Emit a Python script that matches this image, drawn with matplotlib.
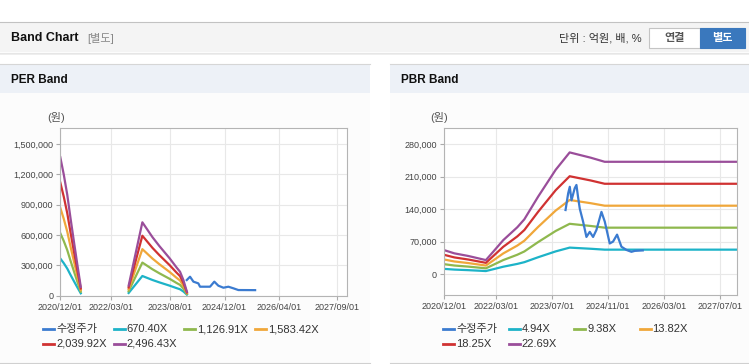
import matplotlib
matplotlib.use('agg')
import matplotlib.pyplot as plt
from matplotlib.patches import Rectangle
from matplotlib.lines import Line2D
from matplotlib.ticker import FuncFormatter
import numpy as np

W, H = 749, 364

# ---- PER band data (EPS per date, NaN = no band) ----
per_dates = ['2020-12-01', '2021-01-01', '2021-02-01', '2021-03-01', '2021-04-01',
             '2021-05-01', '2021-06-01', '2022-01-01',
             '2022-08-01', '2022-12-01', '2023-03-01', '2023-05-01', '2023-08-01',
             '2023-10-01', '2023-11-01', '2023-12-01', '2024-01-01']
per_eps = [549, 480, 400, 310, 215, 125, 35, np.nan,
           40, 291, 232, 197, 148, 112, 95, 62, 16]
per_multiples = [670.40, 1126.91, 1583.42, 2039.92, 2496.43]
per_labels = ['670.40X', '1,126.91X', '1,583.42X', '2,039.92X', '2,496.43X']
per_price_dates = ['2023-12-31', '2024-01-29', '2024-02-28', '2024-04-12', '2024-04-27',
                   '2024-07-25', '2024-09-01', '2024-10-07', '2024-11-21', '2025-01-04',
                   '2025-02-18', '2025-04-03', '2025-08-30']
per_price = [155000, 188000, 139000, 122000, 89000, 89000, 139000, 99000, 79000,
             89000, 73000, 56000, 55000]
per_xticks = ['2020-12-01', '2022-03-01', '2023-08-01', '2024-12-01', '2026-04-01', '2027-09-01']
per_yticks = [0, 300000, 600000, 900000, 1200000, 1500000]

# ---- PBR band data (BPS per date) ----
pbr_dates = ['2020-12-01', '2021-03-01', '2021-07-01', '2021-12-01', '2022-02-01',
             '2022-05-01', '2022-09-01', '2022-11-01', '2023-03-01', '2023-08-01',
             '2023-12-01', '2024-03-01', '2024-06-01', '2024-10-01', '2027-12-01']
pbr_bps = [2280, 1970, 1720, 1330, 2100, 3220, 4450, 5200, 7350, 9900,
           11550, 11300, 11050, 10660, 10660]
pbr_multiples = [4.94, 9.38, 13.82, 18.25, 22.69]
pbr_labels = ['4.94X', '9.38X', '13.82X', '18.25X', '22.69X']
pbr_price_dates = ['2023-10-26', '2023-11-18', '2023-12-02', '2023-12-17', '2024-01-14',
                   '2024-01-29', '2024-02-12', '2024-02-27', '2024-03-27', '2024-04-25',
                   '2024-05-24', '2024-06-22', '2024-07-21', '2024-09-03', '2024-10-02',
                   '2024-11-14', '2024-12-13', '2025-01-17', '2025-02-24', '2025-04-09',
                   '2025-05-22', '2025-06-20', '2025-08-29']
pbr_price = [138000, 174000, 188000, 159000, 185000, 192000, 166000, 141000, 113000,
             80000, 91000, 80000, 95000, 134000, 113000, 66000, 70000, 85000, 59000,
             52000, 48000, 50000, 51000]
pbr_xticks = ['2020-12-01', '2022-03-01', '2023-07-01', '2024-11-01', '2026-03-01', '2027-07-01']
pbr_yticks = [0, 70000, 140000, 210000, 280000]

price_label = '수정주가'
price_color = '#3b7bd0'
band_colors = ['#1db3c8', '#8fb84e', '#f0a73a', '#d03232', '#9a4e9a']

plt.rcParams['font.family'] = ['Liberation Sans', 'Noto Sans CJK KR']


def fx(x):
    return x / W


def fy(y):
    return 1 - y / H


def rect(fig, x0, y0, x1, y1, z=-5, **kw):
    fig.add_artist(Rectangle((fx(x0), fy(y1)), (x1 - x0) / W, (y1 - y0) / H,
                             transform=fig.transFigure, zorder=z, **kw))


def hline(fig, x0, x1, y, color, lw=0.8):
    fig.add_artist(Line2D([fx(x0), fx(x1)], [fy(y), fy(y)], transform=fig.transFigure,
                          color=color, lw=lw, zorder=-4))


def panel(fig, x0, x1, title):
    rect(fig, x0, 64, x1, 363, fc='#fcfcfc', ec='none')
    rect(fig, x0, 64, x1, 93, fc='#edf1f7', ec='none')
    hline(fig, x0, x1, 64, '#d6d6d6')
    hline(fig, x0, x1, 363, '#d0d0d0')
    fig.text(fx(x0 + 11), fy(80), title, fontsize=8.5, fontweight='bold',
             color='#111111', va='center', ha='left')


def band_axes(fig, box, dates, base, multiples, p_dates, p_vals, xticks, yticks,
              ylim, xend):
    x0, y0, x1, y1 = box
    ax = fig.add_axes([fx(x0), fy(y1), (x1 - x0) / W, (y1 - y0) / H])
    d = np.array(dates, dtype='datetime64[D]')
    base = np.array(base, dtype=float)
    for m, c in zip(multiples, band_colors):
        ax.plot(d, base * m, color=c, lw=1.6)
    ax.plot(np.array(p_dates, dtype='datetime64[D]'), p_vals, color=price_color, lw=1.6)
    ax.set_xlim(np.datetime64(xticks[0]), np.datetime64(xend))
    ax.set_ylim(*ylim)
    ax.set_xticks(np.array(xticks, dtype='datetime64[D]'))
    ax.set_xticklabels([t.replace('-', '/') for t in xticks])
    ax.set_yticks(yticks)
    ax.yaxis.set_major_formatter(FuncFormatter(lambda v, p: f'{int(v):,}'))
    ax.tick_params(length=3, width=0.8, color='#aaaaaa', labelsize=6.5,
                   labelcolor='#444444', pad=2)
    ax.grid(color='#e8e8e8', lw=0.8)
    ax.set_axisbelow(True)
    ax.set_facecolor('white')
    for s in ax.spines.values():
        s.set_color('#b4b4b4')
        s.set_linewidth(0.8)
    return ax


def draw_legend(fig, labels, x0, colw, rows):
    entries = [(price_label, price_color)] + list(zip(labels, band_colors))
    for i, (lab, col) in enumerate(entries):
        r, c = divmod(i, 4)
        x = x0 + c * colw
        y = rows[r]
        fig.add_artist(Line2D([fx(x), fx(x + 11)], [fy(y), fy(y)],
                              transform=fig.transFigure, color=col, lw=2))
        fig.text(fx(x + 13), fy(y), lab, fontsize=8, color='#333333',
                 va='center', ha='left')


fig = plt.figure(figsize=(W / 100, H / 100), dpi=100)
fig.patch.set_facecolor('white')

# top header bar
rect(fig, 0, 22, W, 52, fc='#f4f4f4', ec='none')
hline(fig, 0, W, 22, '#c2c2c2')
hline(fig, 0, W, 52.5, '#cccccc')
hline(fig, 0, W, 54, '#ececec', lw=1.2)
fig.text(fx(11), fy(38), 'Band Chart', fontsize=9, fontweight='bold',
         color='#111111', va='center', ha='left')
fig.text(fx(87), fy(38), '[별도]', fontsize=8, color='#888888', va='center', ha='left')
fig.text(fx(642), fy(38), '단위 : 억원, 배, %', fontsize=8, color='#333333',
         va='center', ha='right')
rect(fig, 649, 28, 700, 48, z=1, fc='white', ec='#c4c4c4', lw=0.8)
fig.text(fx(674.5), fy(38), '연결', fontsize=8, fontweight='bold', color='#555555',
         va='center', ha='center')
rect(fig, 700, 28, 745, 48, z=1, fc='#3a78bd', ec='#3a78bd', lw=0.8)
fig.text(fx(722.5), fy(38), '별도', fontsize=8, fontweight='bold', color='white',
         va='center', ha='center')

panel(fig, 0, 370, 'PER Band')
panel(fig, 390, W, 'PBR Band')

fig.text(fx(56), fy(118), '(원)', fontsize=8, color='#555555', va='center', ha='center')
fig.text(fx(439), fy(118), '(원)', fontsize=8, color='#555555', va='center', ha='center')

band_axes(fig, (60.3, 128.3, 347.3, 295.7), per_dates, per_eps, per_multiples,
          per_price_dates, per_price, per_xticks, per_yticks, (0, 1657000), '2027-11-28')
band_axes(fig, (444, 128.3, 737, 295), pbr_dates, pbr_bps, pbr_multiples,
          pbr_price_dates, pbr_price, pbr_xticks, pbr_yticks, (-45000, 314000), '2027-11-28')

draw_legend(fig, per_labels, 43, 70.7, [329, 344])
draw_legend(fig, pbr_labels, 443, 65.5, [329, 344])

fig.savefig('out.png', dpi=100)
